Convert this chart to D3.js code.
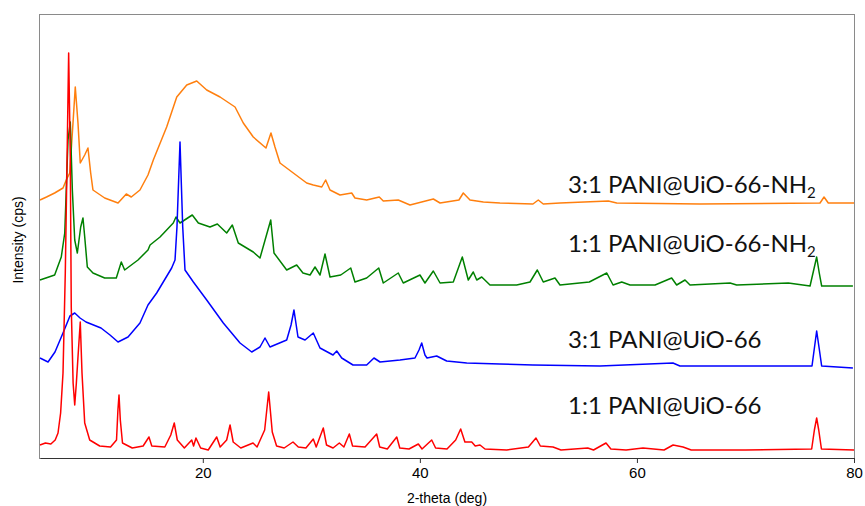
<!DOCTYPE html>
<html>
<head>
<meta charset="utf-8">
<script src="https://cdn.jsdelivr.net/npm/d3@7"></script>
<style>
  body { margin: 0; background: #fff; }
  svg { display: block; }
</style>
</head>
<body>
<div id="plot"></div>
<script>
// [2-theta, intensity] (arbitrary units, curves already offset)
const red = [[5.0,13],[5.5,15],[6.0,14],[6.4,18],[6.66,25],[6.9,45],[7.12,85],[7.33,185],[7.52,318],[7.64,405],[7.79,301],[7.88,151],[8.05,75],[8.2,53],[8.35,75],[8.5,101],[8.71,136],[8.87,85],[9.12,35],[9.58,18],[10.5,12],[11.5,11],[12.05,18],[12.18,48],[12.28,63],[12.4,38],[12.6,15],[13.5,10],[14.5,12],[15.04,21],[15.3,12],[16.5,11],[17.05,23],[17.37,35],[17.65,18],[18.3,10],[18.98,18],[19.15,12],[19.37,20],[19.8,10],[20.5,8],[21.28,21],[21.6,11],[22.2,18],[22.51,33],[22.8,16],[23.5,10],[24.63,15],[25.0,11],[25.7,28],[26.07,66],[26.4,26],[26.8,12],[27.5,10],[28.31,16],[28.8,11],[29.5,10],[30.18,19],[30.45,11],[31.1,30],[31.4,13],[32.0,10],[32.58,15],[33.0,11],[33.5,24],[33.8,12],[34.95,11],[36.02,24],[36.3,11],[37.0,9],[37.87,21],[38.15,10],[39.0,9],[39.86,14],[40.2,9],[41.09,18],[41.45,10],[42.5,9],[43.3,18],[43.76,29],[44.15,16],[44.78,16],[45.1,12],[45.54,13],[46.0,9],[48.0,8],[50.0,11],[50.7,20],[51.1,12],[52.27,11],[53.0,8],[55.47,10],[56.0,8],[57.15,15],[57.6,9],[59.0,8],[60.56,10],[62.5,8],[63.33,13],[64.25,11],[65.0,8],[70.0,8],[76.1,9],[76.35,28],[76.56,40],[76.75,28],[77.0,9],[80.0,8]];

const blue = [[5.0,100],[5.74,96],[6.38,106],[7.12,125],[7.76,142],[8.2,145],[8.69,140],[9.24,136],[10.62,130],[11.45,123],[12.19,116],[13.11,121],[14.21,135],[14.95,153],[15.75,165],[17.13,190],[17.44,198],[17.62,231],[17.9,316],[18.15,231],[18.36,188],[19.13,176],[20.36,158],[21.89,135],[23.43,115],[24.51,106],[25.27,111],[25.73,120],[26.19,111],[27.73,118],[28.13,133],[28.4,148],[28.77,121],[29.42,118],[30.18,125],[30.8,110],[32.0,103],[32.34,107],[32.8,100],[33.84,93],[35.1,93],[35.77,100],[36.33,96],[38.17,98],[39.55,100],[39.92,108],[40.17,115],[40.47,103],[40.66,100],[41.55,102],[42.47,97],[44.32,95],[47.38,94],[50.42,93],[56.59,92],[63.32,95],[63.96,92],[71.34,92],[76.13,92],[76.56,127],[76.8,109],[77.02,92],[79.9,90]];

const green = [[5.0,178],[6.35,183],[6.96,201],[7.28,225],[7.42,268],[7.58,318],[7.79,336],[7.98,268],[8.2,218],[8.44,205],[8.75,231],[8.96,240],[9.12,221],[9.36,191],[9.88,185],[10.96,180],[12.03,180],[12.49,196],[12.8,188],[14.03,198],[14.95,208],[15.14,213],[16.06,221],[17.28,235],[17.53,241],[17.9,235],[19.03,243],[19.59,235],[20.66,231],[21.34,234],[22.2,225],[22.72,233],[23.27,215],[24.65,206],[25.27,200],[26.26,238],[26.56,205],[27.73,188],[28.65,193],[29.23,185],[29.88,183],[30.34,191],[30.8,183],[31.26,204],[31.72,181],[32.71,183],[33.63,190],[34.02,176],[35.1,180],[36.21,190],[36.63,175],[38.01,185],[38.47,175],[40.01,183],[40.47,175],[41.24,187],[41.86,175],[43.08,176],[43.91,201],[44.46,178],[44.92,186],[45.24,178],[45.7,181],[46.46,173],[48.92,173],[50.15,176],[50.82,188],[51.37,176],[52.45,180],[52.91,173],[55.61,176],[57.22,185],[57.8,173],[58.6,176],[59.36,173],[61.67,173],[63.2,180],[63.66,173],[64.43,178],[64.89,173],[68.58,175],[69.19,173],[73.95,175],[75.95,172],[76.56,201],[76.8,185],[77.02,172],[79.9,172]];

const orange = [[5.0,258],[5.6,261],[6.35,265],[7.12,270],[7.42,278],[7.74,285],[8.04,335],[8.25,371],[8.5,335],[8.71,295],[9.12,303],[9.42,310],[9.67,285],[9.88,268],[10.96,260],[12.19,255],[12.95,264],[13.41,261],[14.21,268],[14.95,283],[15.44,298],[16.67,331],[17.6,361],[18.52,373],[19.44,377],[20.36,368],[21.59,361],[22.97,351],[23.73,335],[24.65,321],[25.82,310],[26.28,325],[26.65,311],[27.11,295],[28.34,285],[29.57,275],[30.18,273],[30.96,271],[31.32,278],[31.72,268],[32.64,263],[33.72,265],[34.02,260],[35.1,258],[36.26,261],[36.63,257],[38.01,258],[39.09,253],[41.24,259],[41.86,255],[43.6,258],[44.0,265],[44.62,258],[45.85,256],[47.38,255],[50.42,254],[50.91,258],[51.37,254],[52.91,255],[57.36,257],[58.14,255],[65.8,254],[76.87,255],[77.24,261],[77.63,255],[80.0,255]];

const xTicks = [20, 40, 60, 80];
const names = ["3:1 PANI@UiO-66-NH", "1:1 PANI@UiO-66-NH", "3:1 PANI@UiO-66", "1:1 PANI@UiO-66"];
const subs = ["2", "2", "", ""];
const colors = ["#ff7f0e", "#008000", "#0000ff", "#ff0000"];
const labelY = [193, 252, 348, 414];

const W = 865, H = 506;
const m = {left: 40, right: 854, top: 14, bottom: 458};

const svg = d3.select("#plot").append("svg")
  .attr("width", W).attr("height", H);

const x = d3.scaleLinear().domain([5, 80]).range([m.left, m.right]);
const y = d3.scaleLinear().domain([0, 444]).range([m.bottom, m.top]);

// frame
svg.append("rect")
  .attr("x", m.left - 0.5).attr("y", m.top + 0.5)
  .attr("width", m.right - m.left + 1).attr("height", m.bottom - m.top)
  .attr("fill", "none").attr("stroke", "#8a8a8a").attr("stroke-width", 1);

const line = d3.line().x(d => x(d[0])).y(d => y(d[1]));

const series = [orange, green, blue, red];
series.forEach((s, i) => {
  svg.append("path")
    .datum(s)
    .attr("d", line)
    .attr("fill", "none")
    .attr("stroke", colors[i])
    .attr("stroke-width", 1.5)
    .attr("stroke-linejoin", "round");
});

// bottom axis
const xAxis = svg.append("g")
  .attr("transform", `translate(0,${m.bottom})`)
  .call(d3.axisBottom(x).tickValues(xTicks).tickSize(5).tickSizeOuter(0).tickPadding(4));
xAxis.select(".domain").attr("stroke", "#333").attr("stroke-width", 1.2);
xAxis.selectAll(".tick line").attr("stroke", "#333");
xAxis.selectAll(".tick text")
  .style("font-family", "'Liberation Sans', Arial, sans-serif")
  .style("font-size", "15px")
  .attr("fill", "#000");

svg.append("text")
  .attr("x", 447).attr("y", 503)
  .attr("text-anchor", "middle")
  .style("font-family", "'Liberation Sans', Arial, sans-serif")
  .style("font-size", "14px")
  .text("2-theta (deg)");

svg.append("text")
  .attr("transform", "translate(23,240) rotate(-90)")
  .attr("text-anchor", "middle")
  .style("font-family", "'Liberation Sans', Arial, sans-serif")
  .style("font-size", "14px")
  .text("Intensity (cps)");

// series labels
names.forEach((n, i) => {
  const t = svg.append("text")
    .attr("x", 568).attr("y", labelY[i])
    .style("font-family", "Lato, 'Open Sans', sans-serif")
    .style("font-size", "24px")
    .attr("fill", "#111")
    .text(n);
  if (subs[i]) {
    t.append("tspan")
      .attr("dy", 5)
      .style("font-size", "15px")
      .text(subs[i]);
  }
});
</script>
</body>
</html>
